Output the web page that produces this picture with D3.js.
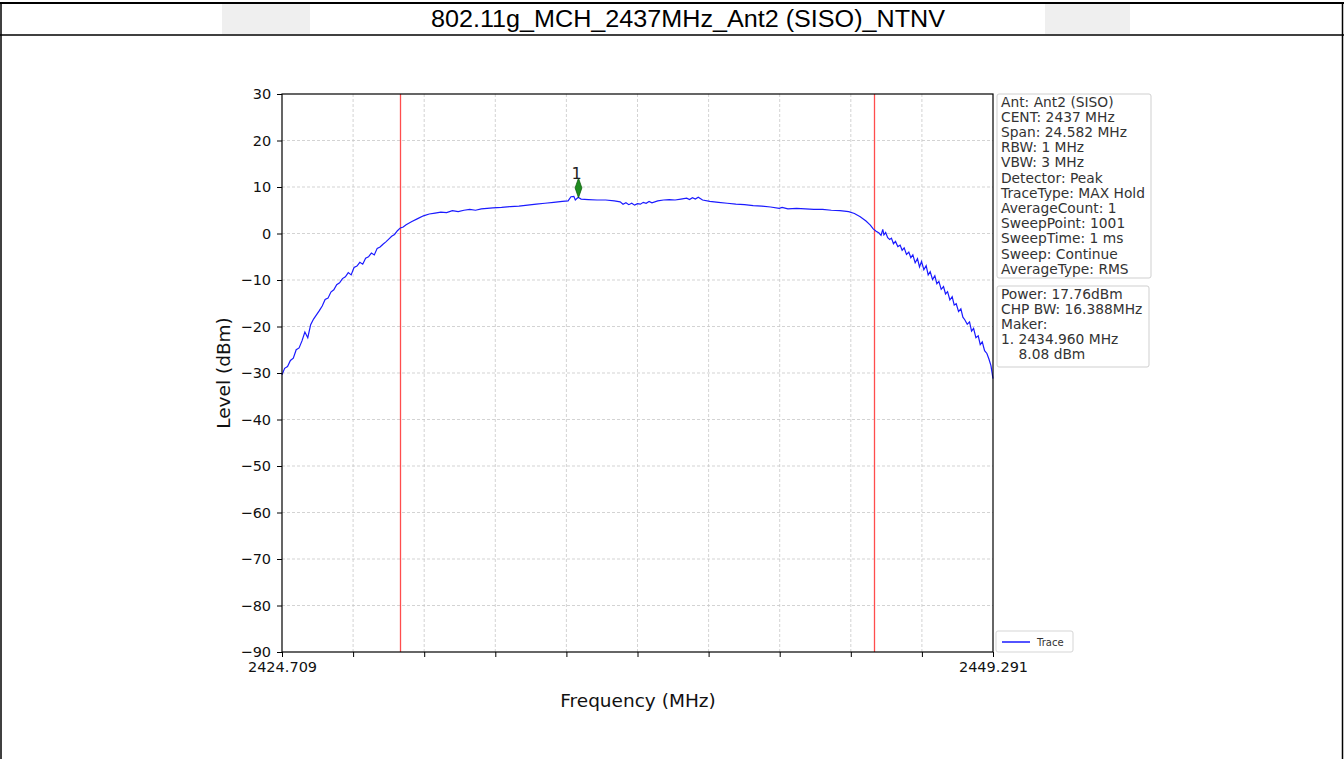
<!DOCTYPE html>
<html><head><meta charset="utf-8">
<script src="https://cdn.jsdelivr.net/npm/d3@7"></script>
<style>body{margin:0;background:#fff}svg{display:block}</style>
</head><body>
<script>
const title = "802.11g_MCH_2437MHz_Ant2 (SISO)_NTNV";
const freqStart = 2424.709, freqStop = 2449.291;
const yTicks = [30,20,10,0,-10,-20,-30,-40,-50,-60,-70,-80,-90];
const chpLeft = 2428.806, chpRight = 2445.194;
const markerFreq = 2434.960, markerLevel = 8.08;
const infoLines = ["Ant: Ant2 (SISO)","CENT: 2437 MHz","Span: 24.582 MHz","RBW: 1 MHz","VBW: 3 MHz","Detector: Peak","TraceType: MAX Hold","AverageCount: 1","SweepPoint: 1001","SweepTime: 1 ms","Sweep: Continue","AverageType: RMS"];
const resultLines = ["Power: 17.76dBm","CHP BW: 16.388MHz","Maker:","1. 2434.960 MHz","    8.08 dBm"];
const traceFreq = [
2424.709,2424.8,2424.9,2425.0,2425.1,2425.2,2425.3,2425.4,2425.5,2425.6,2425.7,2425.8,2425.9,2426.0,2426.1,2426.2,2426.3,2426.4,2426.5,2426.6,2426.7,2426.8,2426.9,2427.0,2427.1,2427.2,2427.3,2427.4,2427.5,2427.6,2427.7,2427.8,2427.9,2428.0,2428.1,2428.2,2428.3,2428.4,2428.5,2428.6,2428.7,2428.8,2428.9,2429.0,2429.2,2429.4,2429.6,2429.8,2430.0,
2430.2,2430.4,2430.6,2430.8,2431.0,2431.2,2431.4,2431.6,2431.8,2432.0,2432.3,2432.6,2432.9,2433.2,2433.5,2433.8,2434.1,2434.4,2434.6,2434.7,2434.8,2434.85,2434.95,2435.05,2435.3,2435.6,2435.9,2436.2,2436.4,2436.5,2436.6,2436.7,2436.8,2436.9,2437.0,2437.1,2437.2,2437.3,2437.4,2437.5,2437.7,2437.9,2438.1,2438.3,2438.5,2438.7,2438.8,2438.9,2439.0,2439.1,2439.25,2439.5,2439.8,2440.1,2440.4,2440.7,2441.0,2441.3,2441.6,2441.9,2442.0,2442.2,2442.5,2442.8,2443.1,2443.4,2443.7,2444.0,2444.3,2444.5,2444.7,2444.9,
2445.05,2445.15,2445.25,2445.35,2445.42,2445.48,2445.52,2445.58,2445.65,2445.72,2445.78,2445.85,2445.92,2446.0,2446.08,2446.15,2446.22,2446.3,2446.38,2446.45,2446.52,2446.6,2446.68,2446.75,2446.82,2446.9,2446.98,2447.05,2447.12,2447.2,2447.28,2447.35,2447.42,2447.5,2447.58,2447.65,2447.72,2447.8,2447.88,2447.95,2448.02,2448.1,2448.18,2448.25,2448.32,2448.4,2448.48,2448.55,2448.62,2448.7,2448.78,2448.85,2448.92,2449.0,2449.08,2449.15,2449.22,2449.291];
const traceLevel = [
-30.4,-29.0,-28.6,-27.3,-26.8,-25.0,-24.6,-23.1,-21.2,-22.4,-19.6,-18.4,-17.5,-16.6,-15.6,-14.2,-13.9,-12.6,-12.1,-11.0,-10.6,-9.7,-9.3,-8.4,-8.9,-7.3,-7.0,-6.2,-6.6,-5.3,-5.0,-4.2,-4.6,-3.2,-2.9,-2.3,-1.8,-1.2,-0.6,-0.2,0.6,1.2,1.4,1.9,2.6,3.2,3.8,4.2,4.4,
4.6,4.5,4.9,4.7,5.0,5.2,5.0,5.3,5.4,5.5,5.6,5.8,5.9,6.1,6.3,6.5,6.7,6.9,7.0,7.9,8.0,7.2,7.8,7.4,7.3,7.2,7.2,7.0,6.8,6.3,6.6,6.2,6.5,6.1,6.4,6.3,6.7,6.5,6.9,6.6,7.0,7.2,7.3,7.2,7.4,7.6,7.3,7.7,7.4,7.8,7.2,6.9,6.7,6.5,6.3,6.2,6.0,5.9,5.7,5.4,5.6,5.3,5.4,5.3,5.2,5.2,5.0,4.9,4.7,4.3,3.6,2.7,
1.8,1.0,0.5,0.1,-0.4,0.9,-0.3,0.2,-0.9,-1.3,-1.0,-2.2,-1.7,-2.8,-2.5,-3.6,-3.1,-4.5,-4.0,-5.2,-4.6,-6.3,-5.4,-7.2,-6.0,-7.8,-6.9,-8.9,-8.2,-9.9,-9.1,-10.8,-10.3,-12.0,-11.4,-13.0,-12.5,-14.3,-13.6,-15.4,-15.1,-16.8,-16.2,-18.0,-18.6,-19.5,-19.0,-21.0,-20.4,-22.4,-22.0,-23.9,-23.3,-25.2,-25.8,-27.0,-28.4,-31.2];

const W = 1344, H = 759;
const svg = d3.select("body").append("svg").attr("width", W).attr("height", H);
svg.append("rect").attr("width", W).attr("height", H).attr("fill", "#fff");

// page frame / title row
svg.append("rect").attr("x",222).attr("y",4).attr("width",88).attr("height",30).attr("fill","#efefef");
svg.append("rect").attr("x",1045).attr("y",4).attr("width",85).attr("height",30).attr("fill","#efefef");
svg.append("line").attr("x1",0).attr("x2",W).attr("y1",3).attr("y2",3).attr("stroke","#000").attr("stroke-width",2);
svg.append("line").attr("x1",0).attr("x2",W).attr("y1",35).attr("y2",35).attr("stroke","#000").attr("stroke-width",1.5);
svg.append("line").attr("x1",1).attr("x2",1).attr("y1",2).attr("y2",H).attr("stroke","#000").attr("stroke-width",1.5);
svg.append("line").attr("x1",W-1.5).attr("x2",W-1.5).attr("y1",2).attr("y2",H).attr("stroke","#000").attr("stroke-width",1.5);
svg.append("text").attr("x",688).attr("y",27).attr("text-anchor","middle")
  .attr("font-family","Liberation Sans, Arial, sans-serif").attr("font-size",23)
  .attr("textLength",514).attr("lengthAdjust","spacingAndGlyphs").attr("fill","#000").text(title);

const L = 282, R = 993, T = 94, B = 652;
const x = d3.scaleLinear().domain([freqStart, freqStop]).range([L, R]);
const y = d3.scaleLinear().domain([-90, 30]).range([B, T]);
const xTickVals = d3.range(11).map(i => freqStart + i * (freqStop - freqStart) / 10);

const font = "DejaVu Sans, sans-serif";
// grid
const g = svg.append("g");
g.selectAll(".vg").data(xTickVals.slice(1,-1)).join("line")
  .attr("x1", d => x(d)).attr("x2", d => x(d)).attr("y1", T).attr("y2", B)
  .attr("stroke", "#c8c8c8").attr("stroke-width", 0.8).attr("stroke-dasharray", "3,2");
g.selectAll(".hg").data(yTicks.slice(1,-1)).join("line")
  .attr("x1", L).attr("x2", R).attr("y1", d => y(d)).attr("y2", d => y(d))
  .attr("stroke", "#c8c8c8").attr("stroke-width", 0.8).attr("stroke-dasharray", "3,2");

// channel power lines
[chpLeft, chpRight].forEach(f => {
  svg.append("line").attr("x1", x(f)).attr("x2", x(f)).attr("y1", T).attr("y2", B)
    .attr("stroke", "#ff4d4d").attr("stroke-width", 1.3);
});

// trace
const pts = traceFreq.map((f, i) => [f, traceLevel[i]]);
svg.append("path").datum(pts)
  .attr("d", d3.line().x(d => x(d[0])).y(d => y(d[1])))
  .attr("fill", "none").attr("stroke", "#1a1aff").attr("stroke-width", 1.2);

// marker
const mx = x(markerFreq), my = y(markerLevel) - 8;
svg.append("path").attr("d", d3.symbol().type(d3.symbolDiamond).size(70)())
  .attr("transform", `translate(${mx},${my}) scale(0.75,1.25)`)
  .attr("fill", "#1f8c1f").attr("stroke", "#0d5e0d").attr("stroke-width", 0.8);
svg.append("text").attr("x", mx - 2).attr("y", my - 9).attr("text-anchor", "middle")
  .attr("font-family", font).attr("font-size", 16).attr("fill", "#222").text("1");

// axes
const xAxis = d3.axisBottom(x).tickValues(xTickVals).tickSize(5)
  .tickFormat((d, i) => (i === 0 || i === 10) ? d.toFixed(3) : "");
const ax = svg.append("g").attr("transform", `translate(0,${B})`).call(xAxis);
ax.select(".domain").remove();
ax.selectAll("line").attr("stroke", "#000").attr("stroke-width", 1);
ax.selectAll("text").attr("font-family", font).attr("font-size", 14.5).attr("fill", "#111").attr("dy", "0.85em");

const yAxis = d3.axisLeft(y).tickValues(yTicks).tickSize(5).tickFormat(d => d < 0 ? "\u2212" + Math.abs(d) : d);
const ay = svg.append("g").attr("transform", `translate(${L},0)`).call(yAxis);
ay.select(".domain").remove();
ay.selectAll("line").attr("stroke", "#000").attr("stroke-width", 1);
ay.selectAll("text").attr("font-family", font).attr("font-size", 14.5).attr("fill", "#111").attr("dx", "-0.2em");

svg.append("rect").attr("x", L).attr("y", T).attr("width", R - L).attr("height", B - T)
  .attr("fill", "none").attr("stroke", "#000").attr("stroke-width", 1.2);

svg.append("text").attr("x", 638).attr("y", 707).attr("text-anchor", "middle")
  .attr("font-family", font).attr("font-size", 18.5).attr("fill", "#111").text("Frequency (MHz)");
svg.append("text").attr("transform", "translate(230,373) rotate(-90)").attr("text-anchor", "middle")
  .attr("font-family", font).attr("font-size", 18.5).attr("fill", "#111").text("Level (dBm)");

// info boxes
function box(x0, y0, w, h, lines, lh) {
  svg.append("rect").attr("x", x0).attr("y", y0).attr("width", w).attr("height", h).attr("rx", 2)
    .attr("fill", "#fff").attr("stroke", "#cfcfcf").attr("stroke-width", 1);
  svg.append("g").selectAll("text").data(lines).join("text")
    .attr("x", x0 + 4).attr("y", (d, i) => y0 + 12.5 + i * lh)
    .attr("font-family", font).attr("font-size", 13.8).attr("fill", "#333")
    .attr("xml:space", "preserve").style("white-space", "pre").text(d => d);
}
box(997, 94, 154, 184, infoLines, 15.2);
box(997, 286, 152, 81, resultLines, 15.2);

// legend
svg.append("rect").attr("x", 996).attr("y", 631).attr("width", 77).attr("height", 21).attr("rx", 2)
  .attr("fill", "#fff").attr("stroke", "#d5d5d5");
svg.append("line").attr("x1", 1002).attr("x2", 1030).attr("y1", 642).attr("y2", 642)
  .attr("stroke", "#1a1aff").attr("stroke-width", 1.5);
svg.append("text").attr("x", 1037).attr("y", 646).attr("font-family", font).attr("font-size", 10)
  .attr("fill", "#333").text("Trace");
</script>
</body></html>
